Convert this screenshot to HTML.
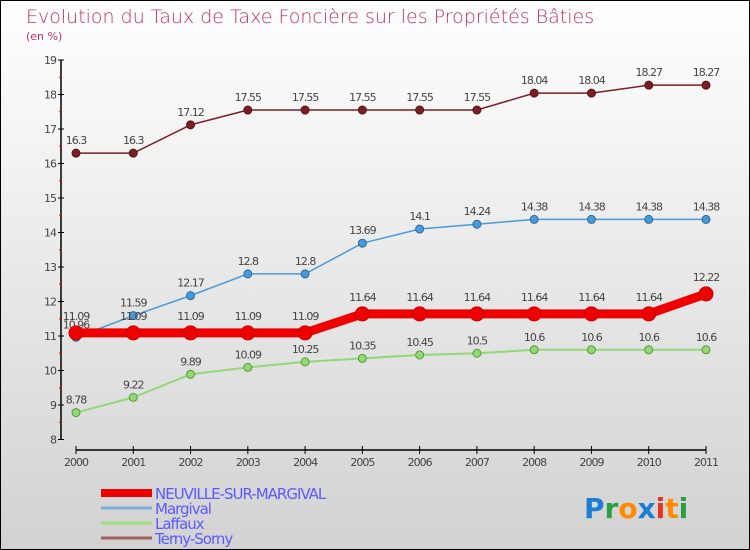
<!DOCTYPE html>
<html><head><meta charset="utf-8"><style>
body{margin:0}
#c{width:750px;height:550px;position:relative;box-sizing:border-box;border:1px solid #000;background:linear-gradient(#fff,#d2d2d2);font-family:"DejaVu Sans","Liberation Sans",sans-serif;overflow:hidden}
</style></head><body>
<div id="c">
<svg id="s" width="750" height="550" style="position:absolute;left:-1px;top:-1px">
<text x="26" y="23" font-size="19" fill="#c0306a" font-family="DejaVu Sans" font-weight="200">Evolution du Taux de Taxe Foncière sur les Propriétés Bâties</text>
<text x="26" y="40" font-size="11" fill="#c0306a">(en %)</text>
<g id="g"></g>
<text x="584" y="518" font-size="28" font-family="DejaVu Sans" font-weight="bold"><tspan fill="#1a7fd4">P</tspan><tspan fill="#2aa040">r</tspan><tspan fill="#ff8a00">o</tspan><tspan fill="#1a7fd4">x</tspan><tspan fill="#e83020">i</tspan><tspan fill="#ff8a00">t</tspan><tspan fill="#2aa040">i</tspan></text>
</svg>
</div>
<script>
const years=["2000","2001","2002","2003","2004","2005","2006","2007","2008","2009","2010","2011"];
const neuville=[11.09,11.09,11.09,11.09,11.09,11.64,11.64,11.64,11.64,11.64,11.64,12.22];
const margival=[10.96,11.59,12.17,12.8,12.8,13.69,14.1,14.24,14.38,14.38,14.38,14.38];
const laffaux=[8.78,9.22,9.89,10.09,10.25,10.35,10.45,10.5,10.6,10.6,10.6,10.6];
const terny=[16.3,16.3,17.12,17.55,17.55,17.55,17.55,17.55,18.04,18.04,18.27,18.27];
const yTicks=[8,9,10,11,12,13,14,15,16,17,18,19];
const NS="http://www.w3.org/2000/svg";
const g=document.getElementById('g');
const X=i=>76+i*(630/11);
const Y=v=>439.5-(v-8)*34.5;
function mk(t,a,txt){const e=document.createElementNS(NS,t);for(const k in a)e.setAttribute(k,a[k]);if(txt!==undefined)e.textContent=txt;g.appendChild(e);return e;}
let e=mk('line',{x1:61,y1:Y(19),x2:61,y2:Y(8),stroke:'#000','stroke-width':1.5});


e=mk('line',{x1:76,y1:450,x2:706,y2:450,stroke:'#000','stroke-width':1.5});


yTicks.forEach(v=>{
 mk('line',{x1:58,y1:Y(v),x2:64,y2:Y(v),stroke:'#000'});
 if(v<19)mk('line',{x1:59,y1:Y(v+0.5),x2:62,y2:Y(v+0.5),stroke:'#e00'});
 e=mk('text',{x:56,y:Y(v)+4,'font-size':11,fill:'#444','text-anchor':'end','letter-spacing':'-1'},String(v));
 
 
});
years.forEach((y,i)=>{
 mk('line',{x1:X(i),y1:446,x2:X(i),y2:454,stroke:'#000'});
 e=mk('text',{x:X(i),y:466,'font-size':11,fill:'#444','text-anchor':'middle','letter-spacing':'-1'},y);
 
 
});
function series(d,col,w,r,name,dark){
 e=mk('polyline',{points:d.map((v,i)=>X(i)+','+Y(v)).join(' '),fill:'none',stroke:col,'stroke-width':w});
 
 
 d.forEach((v,i)=>{
  e=mk('circle',{cx:X(i),cy:Y(v),r:r,fill:col,stroke:dark,'stroke-width':1});
  
  
  e=mk('text',{x:X(i),y:Y(v)-9-(r>5?4:0),'font-size':11,fill:'#444','text-anchor':'middle','letter-spacing':'-1'},String(v));
  
  
 });
}
series(terny,'#7a1f26',1.5,4,'terny-sorny','#5a1010');
series(laffaux,'#90d878',2,4,'laffaux','#5a9a30');
series(margival,'#4a9ad8',1.5,4,'margival','#2a6aa0');
series(neuville,'#ee0000',9,7,'neuville','#cc0000');
const leg=[["NEUVILLE-SUR-MARGIVAL","#ee0000",8],["Margival","#7ab0d8",3],["Laffaux","#a0e080",3],["Terny-Sorny","#a06060",3]];
leg.forEach((l,i)=>{
 const y=493+i*15;
 e=mk('line',{x1:101,y1:y,x2:152,y2:y,stroke:l[1],'stroke-width':l[2]});
 
 
 e=mk('text',{x:155,y:y+6,'font-size':15,fill:'#5a5aff','letter-spacing':'-1'},l[0]);
 
 
});
</script>
</body></html>
